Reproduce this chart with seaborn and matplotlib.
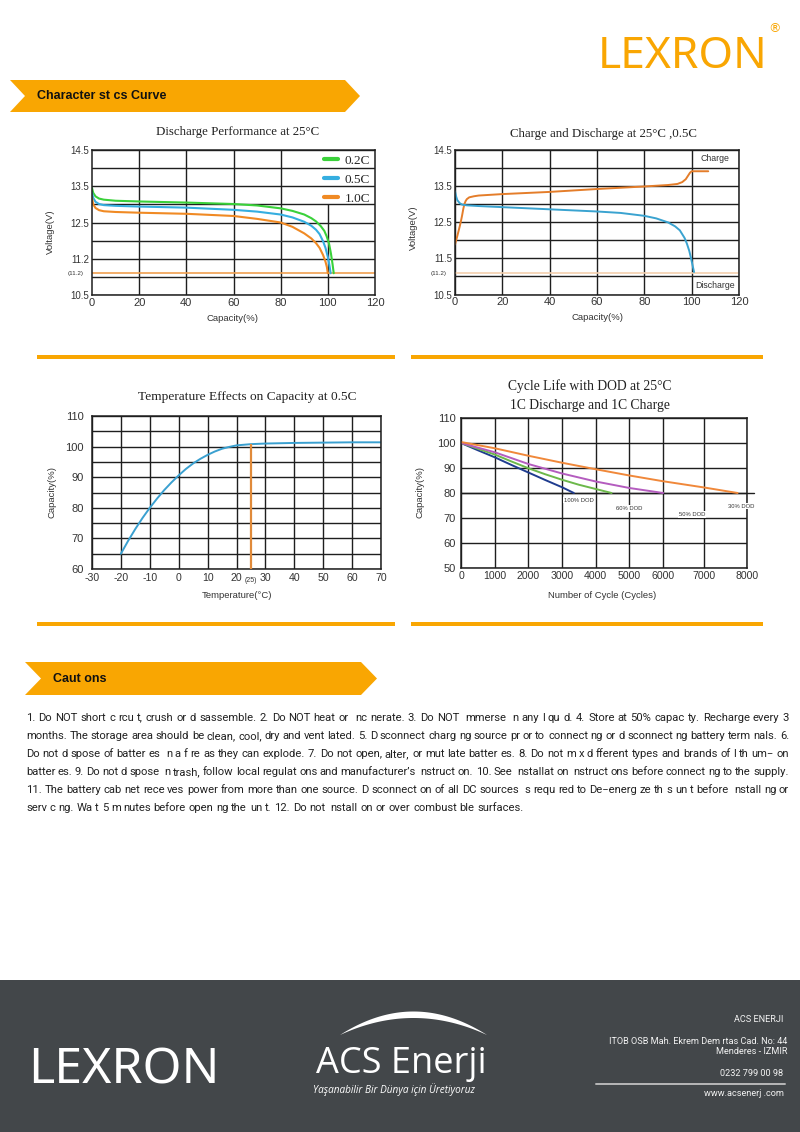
import numpy as np
import matplotlib
matplotlib.use("Agg")
import matplotlib.pyplot as plt
import matplotlib.transforms as mtrans
from matplotlib.patches import Polygon, Rectangle
from matplotlib.lines import Line2D
import seaborn as sns

# ---------------- data ----------------
# Discharge performance at 25C (capacity %, voltage V)
cap_02c = [0, 0.5, 1.5, 3, 5, 10, 20, 40, 60, 70, 80, 85, 90, 93, 95, 97, 98.5, 99.5, 100.5, 101.3, 102, 102.5]
volt_02c = [13.45, 13.32, 13.22, 13.16, 13.13, 13.10, 13.08, 13.05, 13.01, 12.97, 12.89, 12.82, 12.72, 12.62,
            12.53, 12.40, 12.27, 12.12, 11.92, 11.65, 11.35, 11.10]
cap_05c = [0, 0.5, 1.5, 3, 5, 10, 20, 40, 60, 70, 80, 85, 90, 93, 95, 96.5, 98, 99, 100, 100.6, 101.2]
volt_05c = [13.32, 13.18, 13.07, 13.01, 12.98, 12.96, 12.94, 12.91, 12.85, 12.80, 12.72, 12.64, 12.52, 12.41,
            12.30, 12.18, 11.98, 11.80, 11.55, 11.35, 11.10]
cap_10c = [0, 0.5, 1.5, 3, 5, 10, 20, 40, 60, 70, 80, 85, 90, 93, 95, 96.5, 98, 99, 99.6, 100]
volt_10c = [13.18, 13.00, 12.90, 12.84, 12.81, 12.79, 12.77, 12.74, 12.68, 12.60, 12.50, 12.38, 12.20, 12.06,
            11.93, 11.80, 11.60, 11.42, 11.27, 11.10]
cutoff_v = 11.1

# Charge and discharge at 25C, 0.5C
chg_cap = [0, 0.5, 1, 1.5, 2, 2.5, 3, 3.5, 4, 4.5, 5, 6, 8, 10, 20, 40, 60, 80, 90, 94, 96, 97.5, 98.5, 99.3,
           100, 104, 107]
chg_volt = [11.88, 12.00, 12.12, 12.25, 12.38, 12.52, 12.68, 12.86, 13.00, 13.08, 13.13, 13.18, 13.21, 13.23,
            13.27, 13.33, 13.41, 13.48, 13.52, 13.55, 13.60, 13.68, 13.78, 13.86, 13.90, 13.90, 13.90]
dchg_cap = [0, 0.5, 1, 2, 3, 5, 10, 20, 40, 60, 70, 80, 85, 90, 93, 95, 97, 98, 99, 99.8, 100.4, 101]
dchg_volt = [13.35, 13.20, 13.10, 13.02, 12.98, 12.96, 12.94, 12.91, 12.85, 12.79, 12.75, 12.67, 12.60, 12.49,
             12.38, 12.27, 12.06, 11.90, 11.70, 11.48, 11.30, 11.12]

# Temperature effects on capacity at 0.5C
temp_c = [-20, -17.5, -15, -12.5, -10, -7.5, -5, -2.5, 0, 2.5, 5, 7.5, 10, 12.5, 15, 17.5, 20,
          25, 30, 40, 50, 60, 70]
temp_cap = [65.0, 69.2, 73.1, 76.7, 80.0, 83.0, 85.8, 88.3, 90.6, 92.7, 94.5, 96.0, 97.3, 98.4, 99.3, 99.9,
            100.4, 100.8, 101.0, 101.2, 101.3, 101.4, 101.4]
ref_temp = 25

# Cycle life with DOD at 25C
dod100_cyc = [0, 500, 1000, 1500, 2000, 2500, 3000, 3350]
dod100_cap = [100, 97.1, 94.3, 91.2, 88.2, 85.2, 82.3, 80.0]
dod60_cyc = [0, 500, 1000, 1500, 2000, 2500, 3000, 3500, 4000, 4470]
dod60_cap = [100, 97.7, 95.4, 92.6, 89.9, 87.5, 85.3, 83.3, 81.6, 80.0]
dod50_cyc = [0, 1000, 2000, 3000, 4000, 5000, 6000]
dod50_cap = [100, 96.3, 91.6, 87.8, 84.6, 82.0, 80.0]
dod30_cyc = [0, 1000, 2000, 3000, 4000, 5000, 6000, 7000, 7780]
dod30_cap = [100.4, 97.9, 94.9, 92.1, 89.5, 87.0, 84.7, 82.2, 80.0]
dod_labels = ["100% DOD", "60% DOD", "50% DOD", "30% DOD"]
dod_label_cyc = [3500, 5000, 6700, 7860]
dod_label_cap = [77.2, 73.8, 71.4, 74.8]

caution_lines = [
    "1. Do NOT short c rcu t, crush or d sassemble. 2. Do NOT heat or  nc nerate. 3. Do NOT  mmerse  n any l qu d. 4. Store at 50% capac ty. Recharge every 3",
    "months. The storage area should be clean, cool, dry and vent lated. 5. D sconnect charg ng source pr or to connect ng or d sconnect ng battery term nals. 6.",
    "Do not d spose of batter es  n a f re as they can explode. 7. Do not open, alter, or mut late batter es. 8. Do not m x d fferent types and brands of l th um\u2212 on",
    "batter es. 9. Do not d spose  n trash, follow local regulat ons and manufacturer\u2019s  nstruct on. 10. See  nstallat on  nstruct ons before connect ng to the supply.",
    "11. The battery cab net rece ves power from more than one source. D sconnect on of all DC sources  s requ red to De\u2212energ ze th s un t before  nstall ng or",
    "serv c ng. Wa t 5 m nutes before open ng the un t. 12. Do not  nstall on or over combust ble surfaces.",
]

footer_lines = ["ACS ENERJI", "ITOB OSB Mah. Ekrem Dem rtas Cad. No: 44", "Menderes - IZMIR",
                "0232 799 00 98", "www.acsenerj .com"]

# ---------------- styling ----------------
sns.set_theme(style="white")
plt.rcParams['font.family'] = ['Liberation Sans', 'DejaVu Sans']
NARROW = ['Liberation Sans Narrow', 'Roboto', 'DejaVu Sans']
LOGO = ['Noto Sans', 'Roboto', 'DejaVu Sans']
SERIF = ['Liberation Serif', 'DejaVu Serif']
ORANGE = '#F9A602'
GRID = '#1e1e1e'
W, H = 800, 1132

fig = plt.figure(figsize=(8, 11.32), dpi=100)
fig.patch.set_facecolor('white')


def P(x, y):
    return x / W, 1 - y / H


def add_ax(l, r, t, b):
    ax = fig.add_axes([l / W, 1 - b / H, (r - l) / W, (b - t) / H])
    for s in ax.spines.values():
        s.set_color(GRID)
        s.set_linewidth(1.1)
    ax.tick_params(length=0, colors='#333333', pad=2)
    ax.set_axisbelow(True)
    return ax


def label_axes(ax, xl, yl, xpos, ypos):
    ax.set_xlabel(xl, fontsize=6.8, color='#333333')
    ax.set_ylabel(yl, fontsize=6.8, color='#333333')
    ax.xaxis.set_label_coords(*xpos)
    ax.yaxis.set_label_coords(*ypos)
    ax.xaxis.label.set_va('center')
    ax.yaxis.label.set_va('center')


# ---------------- page decorations ----------------
fig.text(*P(598, 68), "LEXRON", fontsize=32, color=ORANGE, family=LOGO, weight='light',
         ha='left', va='baseline')
fig.text(*P(774, 29), "\u00ae", fontsize=9, color=ORANGE, ha='center', va='center', family='DejaVu Sans')

def banner(x0, x1, y0, y1, notch, label, tx):
    ym = (y0 + y1) / 2
    pts = [P(x0, y0), P(x1 - notch, y0), P(x1, ym), P(x1 - notch, y1), P(x0, y1), P(x0 + notch, ym)]
    fig.add_artist(Polygon(pts, closed=True, transform=fig.transFigure, facecolor=ORANGE, edgecolor='none'))
    fig.text(*P(tx, ym), label, fontsize=9, weight='bold', color='#111111', ha='left', va='center')

banner(10, 360, 80, 112, 15, "Character st cs Curve", 37)
banner(25, 377, 662, 695, 16, "Caut ons", 53)

for yy in (357, 624):
    for xa, xb in ((37, 395), (411, 763)):
        fig.add_artist(Rectangle(P(xa, yy + 2), (xb - xa) / W, 4 / H, transform=fig.transFigure,
                                 facecolor=ORANGE, edgecolor='none'))

# ---------------- chart 1: discharge performance ----------------
ax1 = add_ax(92, 375, 150, 295)
sns.lineplot(x=cap_02c, y=volt_02c, ax=ax1, color='#3ad13a', lw=1.5, label='0.2C', sort=False)
sns.lineplot(x=cap_05c, y=volt_05c, ax=ax1, color='#35aee0', lw=1.5, label='0.5C', sort=False)
sns.lineplot(x=cap_10c, y=volt_10c, ax=ax1, color='#f08a24', lw=1.5, label='1.0C', sort=False)
ax1.axhline(cutoff_v, color='#f0a050', lw=1.2, zorder=1)
ax1.set_xlim(0, 120)
ax1.set_ylim(10.5, 14.5)
v_ticks = np.arange(10.5, 14.51, 0.5)
ax1.set_yticks(v_ticks)
ax1.set_yticklabels(['10.5', '', '11.2', '', '12.5', '', '13.5', '', '14.5'], fontsize=7)
ax1.set_xticks(range(0, 121, 20))
ax1.set_xticklabels([str(v) for v in range(0, 121, 20)], fontsize=8)
ax1.grid(True, axis='y', color=GRID, lw=1.0)
ax1.vlines([20, 40, 60, 80], 10.5, 14.5, color=GRID, lw=1.0, zorder=0.5)
ax1.vlines([100], 10.5, 13.0, color=GRID, lw=1.0, zorder=0.5)
leg = ax1.legend(loc='upper right', bbox_to_anchor=(1.0, 1.0), frameon=False,
                 prop={'family': SERIF, 'size': 9.5}, handlelength=1.1, handletextpad=0.5,
                 labelspacing=0.5, borderaxespad=0.1, borderpad=0.25)
for h in leg.get_lines():
    h.set_linewidth(3)
blend1 = mtrans.blended_transform_factory(ax1.transAxes, ax1.transData)
ax1.text(-0.03, cutoff_v - 0.02, "(11.2)", transform=blend1, fontsize=4.5, ha='right', va='center', color='#333333')
label_axes(ax1, "Capacity(%)", "Voltage(V)", (0.498, -0.159), (-0.148, 0.434))
fig.text(*P(238, 132), "Discharge Performance at 25\u00b0C", fontsize=9.3, family=SERIF, ha='center', va='center', color='#222222')

# ---------------- chart 2: charge and discharge ----------------
ax2 = add_ax(455, 739, 149.5, 294.5)
sns.lineplot(x=chg_cap, y=chg_volt, ax=ax2, color='#e47d2a', lw=1.4, sort=False)
sns.lineplot(x=dchg_cap, y=dchg_volt, ax=ax2, color='#3aa3d0', lw=1.4, sort=False)
ax2.axhline(cutoff_v, color='#f3cfae', lw=1.2, zorder=1)
ax2.set_xlim(0, 120)
ax2.set_ylim(10.5, 14.5)
ax2.set_yticks(v_ticks)
ax2.set_yticklabels(['10.5', '', '11.5', '', '12.5', '', '13.5', '', '14.5'], fontsize=7)
ax2.set_xticks(range(0, 121, 20))
ax2.set_xticklabels([str(v) for v in range(0, 121, 20)], fontsize=8)
ax2.grid(True, color=GRID, lw=1.0)
ax2.text(110, 14.25, "Charge", fontsize=6.3, ha='center', va='center', color='#333333')
ax2.text(110, 10.75, "Discharge", fontsize=6.3, ha='center', va='center', color='#333333')
blend2 = mtrans.blended_transform_factory(ax2.transAxes, ax2.transData)
ax2.text(-0.03, cutoff_v - 0.02, "(11.2)", transform=blend2, fontsize=4.5, ha='right', va='center', color='#333333')
label_axes(ax2, "Capacity(%)", "Voltage(V)", (0.5, -0.162), (-0.148, 0.459))
fig.text(*P(603, 134), "Charge and Discharge at 25\u00b0C ,0.5C", fontsize=9.3, family=SERIF, ha='center', va='center', color='#222222')

# ---------------- chart 3: temperature effects ----------------
ax3 = add_ax(92, 381, 416, 569)
sns.lineplot(x=temp_c, y=temp_cap, ax=ax3, color='#3aa0d0', lw=1.4, sort=False)
ref_cap = temp_cap[temp_c.index(ref_temp)]
ax3.vlines(ref_temp, 60, ref_cap, color='#e08a3a', lw=1.6, zorder=3)
ax3.set_xlim(-30, 70)
ax3.set_ylim(60, 110)
ax3.set_xticks(range(-30, 71, 10))
ax3.set_xticklabels([str(v) for v in range(-30, 71, 10)], fontsize=7.6)
ax3.set_yticks(range(60, 111, 5))
ax3.set_yticklabels([str(v) if v % 10 == 0 else '' for v in range(60, 111, 5)], fontsize=8)
ax3.tick_params(axis='y', pad=6)
ax3.tick_params(axis='x', pad=3)
ax3.grid(True, color=GRID, lw=1.0)
blend3 = mtrans.blended_transform_factory(ax3.transData, ax3.transAxes)
ax3.text(ref_temp, -0.075, "(%d)" % ref_temp, transform=blend3, fontsize=5, ha='center', va='center', color='#333333')
label_axes(ax3, "Temperature(\u00b0C)", "Capacity(%)", (0.502, -0.17), (-0.138, 0.503))
fig.text(*P(247, 397), "Temperature Effects on Capacity at 0.5C", fontsize=9.6, family=SERIF, ha='center', va='center', color='#222222')

# ---------------- chart 4: cycle life ----------------
ax4 = add_ax(461, 747, 418, 568)
cyc_knots = [-1000, 0, 6000, 7000, 8000, 9000]
pos_knots = [-1000, 0, 6000, 7220, 8490, 9760]
ax4.set_xscale('function', functions=(lambda v: np.interp(np.asarray(v, float), cyc_knots, pos_knots),
                                      lambda v: np.interp(np.asarray(v, float), pos_knots, cyc_knots)))
sns.lineplot(x=dod100_cyc, y=dod100_cap, ax=ax4, color='#1f3c8f', lw=1.4, sort=False)
sns.lineplot(x=dod60_cyc, y=dod60_cap, ax=ax4, color='#6cb84a', lw=1.4, sort=False)
sns.lineplot(x=dod50_cyc, y=dod50_cap, ax=ax4, color='#b45cbf', lw=1.4, sort=False)
sns.lineplot(x=dod30_cyc, y=dod30_cap, ax=ax4, color='#f0883a', lw=1.4, sort=False)
ax4.set_xlim(0, 8000)
ax4.set_ylim(50, 110)
ax4.set_xticks(range(0, 8001, 1000))
ax4.set_xticklabels([str(v) for v in range(0, 8001, 1000)], fontsize=7.6)
ax4.set_yticks(range(50, 111, 10))
ax4.set_yticklabels([str(v) for v in range(50, 111, 10)], fontsize=8)
ax4.tick_params(axis='y', pad=4)
ax4.xaxis.set_minor_locator(matplotlib.ticker.NullLocator())
ax4.grid(True, color=GRID, lw=1.0)
ax4.axhline(80, xmin=0, xmax=1.025, color=GRID, lw=1.0, clip_on=False, zorder=0.6)
for lab, cx, cy in zip(dod_labels, dod_label_cyc, dod_label_cap):
    ax4.text(cx, cy, lab, fontsize=4.2, ha='center', va='center', color='#333333',
             bbox=dict(facecolor='white', edgecolor='none', pad=0.6), clip_on=False)
label_axes(ax4, "Number of Cycle (Cycles)", "Capacity(%)", (0.493, -0.18), (-0.143, 0.507))
fig.text(*P(590, 386), "Cycle Life with DOD at 25\u00b0C", fontsize=9.8, family=SERIF, ha='center', va='center', color='#222222')
fig.text(*P(590, 405), "1C Discharge and 1C Charge", fontsize=9.8, family=SERIF, ha='center', va='center', color='#222222')

# ---------------- cautions paragraph (justified) ----------------
renderer = fig.canvas.get_renderer()


def text_width(s, size):
    t = fig.text(0, 0, s, fontsize=size, family=NARROW)
    w = t.get_window_extent(renderer).width
    t.remove()
    return w


x_left, x_right = 26, 789
target = x_right - x_left
fs = 9.0
while True:
    widths = [[text_width(tok, fs) if tok else 0.0 for tok in ln.split(' ')] for ln in caution_lines]
    gaps = [(target - sum(ws)) / (len(ws) - 1) for ws in widths[:-1]]
    if min(gaps) >= 0.2 * fs * 100 / 72 or fs < 6:
        break
    fs -= 0.1

space_w = text_width("a a", fs) - text_width("aa", fs)
for i, (ln, ws) in enumerate(zip(caution_lines, widths)):
    toks = ln.split(' ')
    gap = (target - sum(ws)) / (len(toks) - 1) if i < len(caution_lines) - 1 else space_w
    x = x_left
    y = 718 + i * 18
    for tok, w in zip(toks, ws):
        if tok:
            fig.text(*P(x, y), tok, fontsize=fs, family=NARROW, color='#222222', ha='left', va='center')
        x += w + gap

# ---------------- footer ----------------
fig.add_artist(Rectangle((0, 0), 1, 152 / H, transform=fig.transFigure, facecolor='#43474a', edgecolor='none'))
fig.text(*P(28, 1083), "LEXRON", fontsize=36, color='white', family=LOGO, weight='light',
         ha='left', va='baseline')

tt = np.linspace(-1, 1, 60)
outer = [P(413.5 + 73.5 * t, 1035 - 23.5 * (1 - t ** 2)) for t in tt]
inner = [P(413.5 + 73.5 * t, 1035 - 17 * (1 - t ** 2)) for t in tt[::-1]]
fig.add_artist(Polygon(outer + inner, closed=True, transform=fig.transFigure, facecolor='white', edgecolor='none'))
fig.text(*P(401, 1073), "ACS Enerji", fontsize=26, color='white', family=['Open Sans', 'DejaVu Sans'],
         ha='center', va='baseline')
fig.text(*P(394, 1090), "Ya\u015fanabilir Bir D\u00fcnya i\u00e7in \u00dcretiyoruz", fontsize=7.2, color='white',
         style='italic', family=['Open Sans', 'DejaVu Sans'], ha='center', va='center')

for txt, xr, yc in zip(footer_lines, [783, 787, 787, 783, 784], [1020, 1041, 1051, 1073, 1094]):
    fig.text(*P(xr, yc), txt, fontsize=6.6, color='#f2f2f2', family=NARROW, ha='right', va='center')
fig.add_artist(Line2D([596 / W, 785 / W], [1 - 1084 / H, 1 - 1084 / H], transform=fig.transFigure,
                      color='#b8b8b8', lw=1.4))

fig.savefig("out.png", dpi=100)
